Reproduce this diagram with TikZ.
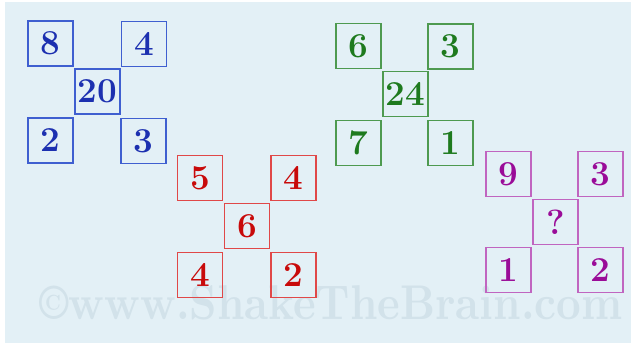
\documentclass[tikz,border=0pt]{standalone}
\usepackage{graphicx}
\definecolor{bg}{HTML}{E3F0F6}
\definecolor{wm}{HTML}{D2E2EA}
\definecolor{bluetx}{HTML}{1C30B0}
\definecolor{blueln}{HTML}{3F5FD0}
\definecolor{greentx}{HTML}{1E7A1E}
\definecolor{greenln}{HTML}{4E9A50}
\definecolor{redtx}{HTML}{C80A0A}
\definecolor{redln}{HTML}{E04848}
\definecolor{magtx}{HTML}{9A0C98}
\definecolor{magln}{HTML}{C065C0}
\tikzset{
  numbox/.style={draw=#1ln, text=#1tx, line width=1.4pt, minimum width=45pt, minimum height=45pt, inner sep=0pt,
    font=\fontsize{35}{38}\selectfont\bfseries},
}
\begin{document}
\begin{tikzpicture}[x=1pt,y=-1pt]
\fill[white] (0,0) rectangle (631,343);
\useasboundingbox (0,0) rectangle (631,343);
\fill[bg] (5,2) rectangle (631,343);
\node[text=wm, inner sep=0pt] (wmk) at (331,303) {\resizebox{583pt}{34pt}{\bfseries \textcopyright www.ShakeTheBrain.com}};
% blue group
\node[numbox=blue] (b1) at (50.5,43.5) {8};
\node[numbox=blue] (b2) at (144,44) {4};
\node[numbox=blue] (b0) at (97.5,91.5) {20};
\node[numbox=blue] (b3) at (50.5,140.5) {2};
\node[numbox=blue] (b4) at (143.5,141) {3};
% green group
\node[numbox=green] (g1) at (358.5,46) {6};
\node[numbox=green] (g2) at (450.5,46.5) {3};
\node[numbox=green] (g0) at (405.5,94) {24};
\node[numbox=green] (g3) at (358.5,143) {7};
\node[numbox=green] (g4) at (450.5,143) {1};
% red group
\node[numbox=red] (r1) at (200,178) {5};
\node[numbox=red] (r2) at (293.5,178) {4};
\node[numbox=red] (r0) at (247,226) {6};
\node[numbox=red] (r3) at (200,275) {4};
\node[numbox=red] (r4) at (293.5,275) {2};
% magenta group
\node[numbox=mag] (m1) at (508.5,174) {9};
\node[numbox=mag] (m2) at (600.5,174) {3};
\node[numbox=mag] (m0) at (555.5,222) {?};
\node[numbox=mag] (m3) at (508.5,270) {1};
\node[numbox=mag] (m4) at (600.5,270) {2};
\end{tikzpicture}
\end{document}
